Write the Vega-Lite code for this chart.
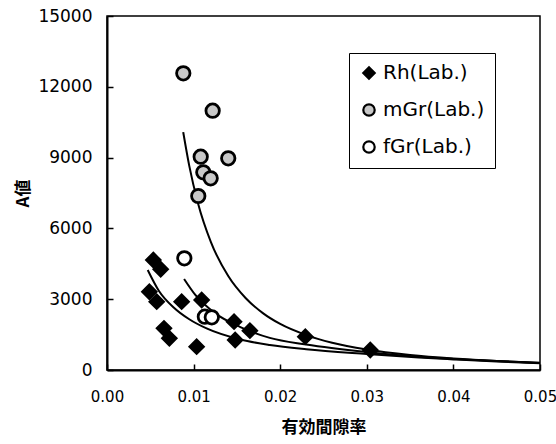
{
  "$schema": "https://vega.github.io/schema/vega-lite/v6.json",
  "width": 433,
  "height": 354,
  "autosize": {"type": "none"},
  "padding": {"left": 107, "top": 16, "right": 16, "bottom": 74},
  "background": "white",
  "config": {
    "view": {"stroke": "black", "strokeWidth": 1.5},
    "font": "DejaVu Sans",
    "axis": {"grid": false, "labelFlush": false, "domainColor": "black", "domainWidth": 2, "tickColor": "black", "tickWidth": 1.5, "labelColor": "black", "titleColor": "black", "labelFont": "DejaVu Sans", "labelFontSize": 17, "titleFont": "Noto Sans CJK JP", "titleFontSize": 17, "titleFontWeight": "bold"},
    "legend": {"labelFontSize": 20, "labelFont": "DejaVu Sans", "labelColor": "black", "strokeColor": "black", "fillColor": "white", "padding": 10, "rowPadding": 15, "symbolSize": 130, "symbolStrokeWidth": 2.2, "labelOffset": 4}
  },
  "datasets": {
    "pts": [
      {"x": 0.00535, "y": 4660, "s": "Rh(Lab.)"},
      {"x": 0.0062, "y": 4267, "s": "Rh(Lab.)"},
      {"x": 0.00489, "y": 3318, "s": "Rh(Lab.)"},
      {"x": 0.00574, "y": 2895, "s": "Rh(Lab.)"},
      {"x": 0.00862, "y": 2895, "s": "Rh(Lab.)"},
      {"x": 0.01093, "y": 2966, "s": "Rh(Lab.)"},
      {"x": 0.00658, "y": 1766, "s": "Rh(Lab.)"},
      {"x": 0.0072, "y": 1342, "s": "Rh(Lab.)"},
      {"x": 0.01035, "y": 988, "s": "Rh(Lab.)"},
      {"x": 0.01467, "y": 2048, "s": "Rh(Lab.)"},
      {"x": 0.0148, "y": 1271, "s": "Rh(Lab.)"},
      {"x": 0.0165, "y": 1667, "s": "Rh(Lab.)"},
      {"x": 0.0229, "y": 1412, "s": "Rh(Lab.)"},
      {"x": 0.0304, "y": 847, "s": "Rh(Lab.)"},
      {"x": 0.00881, "y": 12571, "s": "mGr(Lab.)"},
      {"x": 0.0122, "y": 10989, "s": "mGr(Lab.)"},
      {"x": 0.01082, "y": 9040, "s": "mGr(Lab.)"},
      {"x": 0.0140, "y": 8969, "s": "mGr(Lab.)"},
      {"x": 0.01112, "y": 8376, "s": "mGr(Lab.)"},
      {"x": 0.01197, "y": 8122, "s": "mGr(Lab.)"},
      {"x": 0.01054, "y": 7373, "s": "mGr(Lab.)"},
      {"x": 0.00893, "y": 4732, "s": "fGr(Lab.)"},
      {"x": 0.0113, "y": 2260, "s": "fGr(Lab.)"},
      {"x": 0.0121, "y": 2232, "s": "fGr(Lab.)"}
    ],
    "curves": [
      {"x": 0.0088, "y": 10080, "c": "C1"},
      {"x": 0.0095, "y": 8650, "c": "C1"},
      {"x": 0.0105, "y": 7080, "c": "C1"},
      {"x": 0.012, "y": 5420, "c": "C1"},
      {"x": 0.014, "y": 3980, "c": "C1"},
      {"x": 0.016, "y": 3050, "c": "C1"},
      {"x": 0.018, "y": 2410, "c": "C1"},
      {"x": 0.02, "y": 1950, "c": "C1"},
      {"x": 0.023, "y": 1480, "c": "C1"},
      {"x": 0.026, "y": 1155, "c": "C1"},
      {"x": 0.03, "y": 870, "c": "C1"},
      {"x": 0.035, "y": 640, "c": "C1"},
      {"x": 0.04, "y": 490, "c": "C1"},
      {"x": 0.045, "y": 385, "c": "C1"},
      {"x": 0.05, "y": 310, "c": "C1"},
      {"x": 0.0089, "y": 3856, "c": "B"},
      {"x": 0.0102, "y": 3180, "c": "B"},
      {"x": 0.0125, "y": 2400, "c": "B"},
      {"x": 0.0154, "y": 1820, "c": "B"},
      {"x": 0.0188, "y": 1360, "c": "B"},
      {"x": 0.023, "y": 1080, "c": "B"},
      {"x": 0.03, "y": 760, "c": "B"},
      {"x": 0.036, "y": 560, "c": "B"},
      {"x": 0.04, "y": 470, "c": "B"},
      {"x": 0.045, "y": 380, "c": "B"},
      {"x": 0.05, "y": 300, "c": "B"},
      {"x": 0.0047, "y": 4240, "c": "A"},
      {"x": 0.006, "y": 3350, "c": "A"},
      {"x": 0.0077, "y": 2650, "c": "A"},
      {"x": 0.0095, "y": 2150, "c": "A"},
      {"x": 0.0115, "y": 1760, "c": "A"},
      {"x": 0.0154, "y": 1290, "c": "A"},
      {"x": 0.0188, "y": 1060, "c": "A"},
      {"x": 0.023, "y": 880, "c": "A"},
      {"x": 0.03, "y": 680, "c": "A"},
      {"x": 0.036, "y": 530, "c": "A"},
      {"x": 0.04, "y": 450, "c": "A"},
      {"x": 0.045, "y": 360, "c": "A"},
      {"x": 0.05, "y": 290, "c": "A"}
    ]
  },
  "layer": [
    {
      "data": {"name": "curves"},
      "mark": {"type": "line", "color": "black", "strokeWidth": 2, "interpolate": "monotone", "clip": true},
      "encoding": {
        "x": {"field": "x", "type": "quantitative", "scale": {"domain": [0, 0.05], "nice": false},
          "axis": {"title": "有効間隙率", "values": [0, 0.01, 0.02, 0.03, 0.04, 0.05], "format": ".2f", "tickSize": -6, "labelPadding": 25, "labelFontSize": 15, "titlePadding": 15}},
        "y": {"field": "y", "type": "quantitative", "scale": {"domain": [0, 15000], "nice": false},
          "axis": {"title": "A値", "values": [0, 3000, 6000, 9000, 12000, 15000], "format": "d", "tickSize": -6, "labelPadding": 21, "titlePadding": 5}},
        "detail": {"field": "c"}
      }
    },
    {
      "data": {"name": "pts"},
      "mark": {"type": "point", "filled": true, "strokeWidth": 2.8, "opacity": 1, "size": 180},
      "encoding": {
        "x": {"field": "x", "type": "quantitative"},
        "y": {"field": "y", "type": "quantitative"},
        "shape": {"field": "s", "type": "nominal",
          "scale": {"domain": ["Rh(Lab.)", "mGr(Lab.)", "fGr(Lab.)"], "range": ["diamond", "circle", "circle"]},
          "legend": {"title": null, "orient": "none", "legendX": 242, "legendY": 37}},
        "fill": {"field": "s", "type": "nominal",
          "scale": {"domain": ["Rh(Lab.)", "mGr(Lab.)", "fGr(Lab.)"], "range": ["black", "#c8c8c8", "white"]},
          "legend": {"title": null, "orient": "none", "legendX": 242, "legendY": 37}},
        "stroke": {"field": "s", "type": "nominal",
          "scale": {"domain": ["Rh(Lab.)", "mGr(Lab.)", "fGr(Lab.)"], "range": ["black", "black", "black"]},
          "legend": {"title": null, "orient": "none", "legendX": 242, "legendY": 37}}
      }
    }
  ]
}
